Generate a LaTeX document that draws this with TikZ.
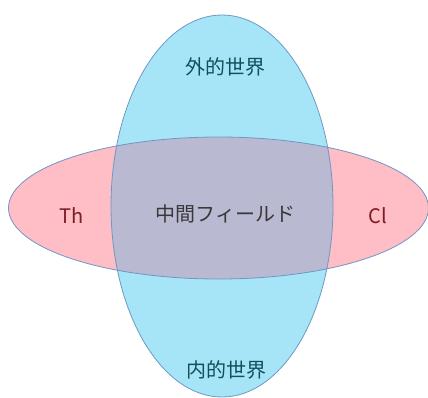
\documentclass[tikz,border=0pt]{standalone}
\usepackage{fontspec}
\setmainfont{Noto Sans CJK JP}
\definecolor{outerblue}{HTML}{A6E5F7}
\definecolor{fieldpink}{HTML}{FFBDC6}
\definecolor{middlegray}{HTML}{B9B9D2}
\definecolor{edgeblue}{HTML}{6E98C4}
\definecolor{tealtext}{HTML}{124F5C}
\definecolor{redtext}{HTML}{7A1E22}
\definecolor{graytext}{HTML}{383838}

\begin{document}
\begin{tikzpicture}[
  x=1pt, y=-1pt,
  edge/.style={draw=edgeblue, line width=0.8pt},
  label/.style={font=\fontsize{20pt}{22pt}\selectfont, inner sep=0pt}
]
  \useasboundingbox (0,0) rectangle (428,397);
  % vertical and horizontal ellipses
  \fill[outerblue] (222,206) ellipse [x radius=111pt, y radius=191pt];
  \fill[fieldpink] (218.5,208) ellipse [x radius=210pt, y radius=71pt];
  \begin{scope}
    \clip (222,206) ellipse [x radius=111pt, y radius=191pt];
    \fill[middlegray] (218.5,208) ellipse [x radius=210pt, y radius=71pt];
  \end{scope}
  \draw[edge] (222,206) ellipse [x radius=111pt, y radius=191pt];
  \draw[edge] (218.5,208) ellipse [x radius=210pt, y radius=71pt];

  \node[label, text=tealtext] (outer) at (225.5,67) {外的世界};
  \node[label, text=tealtext] (inner) at (226.5,370) {内的世界};
  \node[label, text=graytext] (middle) at (225.5,214) {中間フィールド};
  \node[label, text=redtext] (th) at (72,216) {Th};
  \node[label, text=redtext] (cl) at (378,216) {Cl};
\end{tikzpicture}
\end{document}
